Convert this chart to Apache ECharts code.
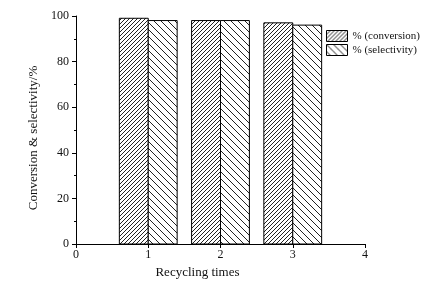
<!DOCTYPE html>
<html>
<head>
<meta charset="utf-8">
<script src="https://cdn.jsdelivr.net/npm/echarts@6/dist/echarts.min.js"></script>
<style>
  html, body { margin: 0; padding: 0; background: #fff; }
  #chart { width: 421px; height: 289px; }
</style>
</head>
<body>
<div id="chart"></div>
<script>
const recycles = [1, 2, 3];
const conversion = [99, 98, 97];
const selectivity = [98, 98, 96];
const xTicks = [0, 1, 2, 3, 4];

const font = 'Liberation Serif';

// diagonal hatch tile, dir 1 = '/', dir -1 = '\'
function hatch(period, width, dir, bg) {
  const c = document.createElement('canvas');
  c.width = period;
  c.height = period;
  const ctx = c.getContext('2d');
  ctx.fillStyle = bg;
  ctx.fillRect(0, 0, period, period);
  ctx.strokeStyle = '#222';
  ctx.lineWidth = width;
  for (let k = -1; k <= 1; k++) {
    const x0 = k * period;
    ctx.beginPath();
    if (dir > 0) {
      ctx.moveTo(x0, period);
      ctx.lineTo(x0 + period, 0);
    } else {
      ctx.moveTo(x0, 0);
      ctx.lineTo(x0 + period, period);
    }
    ctx.stroke();
  }
  return { image: c, repeat: 'repeat' };
}

const convPattern = hatch(4, 1, 1, '#fff');
const selPattern = hatch(7, 1, -1, '#fff');

function barSeries(name, values, pattern, side) {
  return {
    type: 'custom',
    name,
    data: recycles.map((r, i) => [r, values[i]]),
    itemStyle: { color: pattern, borderColor: '#000', borderWidth: 1 },
    renderItem: function (params, api) {
      const x = api.value(0);
      const y = api.value(1);
      const a = api.coord([side < 0 ? x - 0.4 : x, y]);
      const b = api.coord([side < 0 ? x : x + 0.4, 0]);
      return {
        type: 'rect',
        shape: { x: a[0], y: a[1], width: b[0] - a[0], height: b[1] - a[1] },
        style: { fill: pattern, stroke: '#000', lineWidth: 1 }
      };
    }
  };
}

const chart = echarts.init(document.getElementById('chart'));
chart.setOption({
  animation: false,
  grid: { left: 76, right: 56, top: 16, bottom: 45 },
  legend: {
    orient: 'vertical',
    left: 326,
    top: 30,
    padding: 0,
    itemWidth: 21,
    itemHeight: 11,
    itemGap: 2,
    icon: 'rect',
    itemStyle: { borderColor: '#000', borderWidth: 1 },
    textStyle: { fontFamily: font, fontSize: 11, color: '#111' },
    data: ['% (conversion)', '% (selectivity)']
  },
  xAxis: {
    type: 'value',
    min: 0,
    max: 4,
    interval: 1,
    name: 'Recycling times',
    nameLocation: 'middle',
    nameGap: 22,
    nameTextStyle: { fontFamily: font, fontSize: 13, color: '#111', padding: [0, 46, 0, 0] },
    axisLine: { lineStyle: { color: '#000', width: 1 } },
    axisTick: { show: true, length: 4, lineStyle: { color: '#000' } },
    axisLabel: {
      fontFamily: font, fontSize: 12, color: '#111', margin: 5,
      formatter: v => xTicks.includes(v) ? String(v) : ''
    },
    splitLine: { show: false }
  },
  yAxis: {
    type: 'value',
    min: 0,
    max: 100,
    interval: 20,
    name: 'Conversion & selectivity/%',
    nameLocation: 'middle',
    nameGap: 26,
    nameTextStyle: { fontFamily: font, fontSize: 13, color: '#111', padding: [0, 16, 0, 0] },
    axisLine: { show: true, lineStyle: { color: '#000', width: 1 } },
    axisTick: { show: true, length: 4, lineStyle: { color: '#000' } },
    minorTick: { show: true, splitNumber: 2, length: 2, lineStyle: { color: '#000' } },
    axisLabel: { fontFamily: font, fontSize: 12, color: '#111', margin: 7 },
    splitLine: { show: false }
  },
  series: [
    barSeries('% (conversion)', conversion, convPattern, -1),
    barSeries('% (selectivity)', selectivity, selPattern, 1)
  ]
});
</script>
</body>
</html>
